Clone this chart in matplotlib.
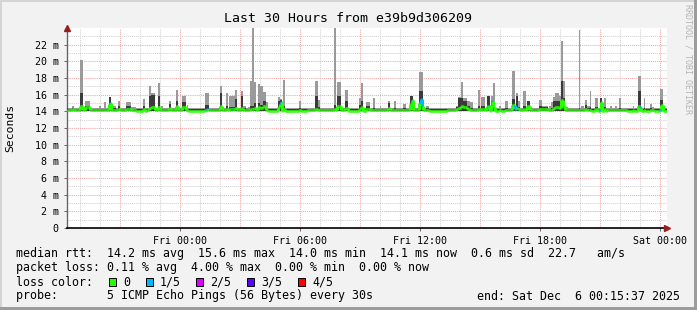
import matplotlib

matplotlib.use("Agg")
import matplotlib.pyplot as plt
import numpy as np
from matplotlib.collections import LineCollection
from matplotlib.patches import Rectangle

# ---- data (hours relative to Fri 00:00, one step = 3 min) ----
STEP_H = 0.05
T_START = -5.65
N_STEPS = 600

# hourly baseline median rtt (ms)
base_med = [14.15, 14.2, 14.15, 14.1, 14.15, 14.15, 14.1, 14.15, 14.2, 14.15,
            14.1, 14.1, 14.15, 14.15, 14.1, 14.15, 14.2, 14.15, 14.1, 14.15,
            14.15, 14.1, 14.15, 14.15, 14.2, 14.15, 14.1, 14.15, 14.1, 14.1]
BASE_LO, BASE_DARK, BASE_TOP = 14.0, 14.25, 14.35
DARK_LO = 14.1

# smoke bursts: start (h), steps, max ping, inner ping, median
ev_t = [-5.65, -5.40, -5.00, -4.75, -4.05, -3.80, -3.55, -3.40, -3.10, -2.70,
        -2.45, -1.85, -1.55, -1.45, -1.10, -0.95, -0.55, -0.20, 0.10, 0.35,
        1.25, 2.00, 2.30, 2.45, 2.75, 3.05, 3.15, 3.40, 3.50, 3.60,
        3.70, 3.90, 4.00, 4.15, 4.30, 4.90, 5.00, 5.15, 5.95, 6.75,
        6.90, 7.70, 7.85, 8.25, 8.95, 9.05, 9.30, 9.65, 10.00, 10.40,
        10.70, 11.15, 11.50, 11.95, 12.30, 13.80, 13.90, 14.05, 14.15, 14.35,
        14.50, 14.90, 15.05, 15.35, 15.55, 15.65, 15.95, 16.25, 16.60, 16.75,
        16.80, 16.90, 17.15, 17.35, 17.95, 18.10, 18.45, 18.55, 18.65, 18.75,
        18.95, 19.05, 19.15, 19.30, 19.95, 20.05, 20.25, 20.35, 20.50, 20.75,
        21.00, 21.20, 21.50, 21.75, 21.95, 22.65, 22.90, 23.20, 23.50, 23.60,
        24.00]
ev_n = [1, 2, 3, 5, 2, 2, 2, 4, 2, 5,
        5, 2, 2, 4, 2, 2, 2, 2, 4, 1,
        4, 2, 2, 6, 2, 2, 3, 2, 2, 2,
        2, 2, 3, 3, 2, 2, 2, 2, 2, 3,
        2, 2, 4, 3, 2, 2, 4, 2, 1, 2,
        2, 3, 3, 4, 3, 2, 3, 2, 4, 3,
        3, 2, 4, 3, 2, 2, 2, 3, 3, 1,
        2, 2, 3, 3, 3, 6, 2, 2, 2, 4,
        2, 2, 2, 2, 1, 3, 2, 3, 1, 3,
        2, 2, 2, 2, 2, 1, 3, 1, 2, 2,
        3]
ev_top = [14.9, 14.6, 20.2, 15.2, 14.7, 15.1, 15.7, 14.7, 15.2, 15.1,
          14.5, 15.5, 17.0, 16.2, 17.4, 14.6, 15.2, 16.6, 15.9, 14.8,
          16.2, 17.0, 16.2, 15.8, 16.6, 16.4, 14.7, 14.5, 17.7, 24.5,
          17.5, 17.3, 17.0, 16.3, 15.1, 15.7, 15.5, 17.8, 15.3, 17.7,
          15.4, 24.5, 17.5, 16.6, 15.6, 17.4, 15.1, 15.6, 14.6, 15.2,
          15.2, 14.9, 15.9, 18.7, 14.7, 14.7, 15.7, 17.5, 15.6, 15.3,
          15.1, 16.6, 15.7, 15.8, 15.8, 17.4, 14.6, 15.2, 18.9, 14.6,
          16.2, 15.2, 16.4, 15.2, 15.4, 14.7, 14.6, 15.1, 15.7, 16.2,
          15.8, 22.5, 17.6, 14.5, 23.8, 14.6, 15.4, 14.7, 16.4, 15.6,
          15.6, 15.6, 14.7, 14.7, 15.6, 14.6, 18.2, 15.6, 14.9, 14.5,
          16.7]
ev_dark = [14.4, 14.4, 16.2, 14.6, 14.3, 14.3, 15.7, 14.4, 14.6, 14.7,
           14.3, 14.6, 15.8, 16.0, 15.9, 14.3, 14.9, 15.3, 15.1, 14.3,
           14.8, 16.2, 14.6, 14.5, 15.5, 15.8, 14.4, 14.3, 14.6, 14.6,
           15.0, 15.0, 14.8, 15.3, 14.4, 15.3, 15.4, 14.6, 14.4, 15.9,
           14.5, 14.8, 15.9, 15.3, 14.8, 15.3, 14.6, 14.4, 14.3, 15.0,
           14.4, 14.4, 15.9, 16.4, 14.4, 14.5, 15.6, 15.6, 15.3, 14.6,
           14.4, 14.7, 14.6, 15.8, 15.2, 15.0, 14.3, 14.4, 15.5, 14.4,
           15.8, 14.5, 14.6, 15.2, 14.6, 14.5, 14.3, 14.4, 15.2, 15.3,
           15.2, 17.6, 15.6, 14.3, 14.4, 14.3, 14.8, 14.4, 14.5, 14.5,
           15.6, 14.5, 14.3, 14.3, 14.4, 14.3, 16.4, 14.4, 14.4, 14.3,
           15.4]
ev_med = [14.2, 14.3, 14.7, 14.5, 14.2, 14.2, 14.9, 14.2, 14.3, 14.3,
          14.2, 14.3, 14.4, 14.5, 14.5, 14.2, 14.4, 14.7, 14.5, 14.2,
          14.2, 14.7, 14.3, 14.3, 14.4, 14.4, 14.2, 14.2, 14.3, 14.3,
          14.4, 14.5, 14.4, 14.6, 14.2, 14.5, 14.9, 14.3, 14.2, 14.3,
          14.2, 14.3, 14.6, 14.4, 14.3, 14.5, 14.3, 14.2, 14.2, 14.4,
          14.2, 14.2, 14.9, 15.0, 14.2, 14.3, 14.4, 14.6, 14.5, 14.3,
          14.2, 14.3, 14.3, 14.6, 14.8, 14.5, 14.2, 14.2, 14.8, 14.3,
          14.4, 14.3, 14.3, 14.6, 14.3, 14.3, 14.2, 14.2, 14.4, 14.5,
          14.4, 15.4, 14.6, 14.2, 14.2, 14.2, 14.3, 14.2, 14.2, 14.3,
          15.1, 14.3, 14.2, 14.2, 14.2, 14.2, 14.6, 14.2, 14.2, 14.2,
          14.8]

# steps with one lost ping out of five
loss_t = [-3.50, -2.50, 1.35, 2.55, 5.05, 11.60, 12.05, 12.10, 15.40, 15.60,
          16.75, 16.85, 21.00, 23.00, 24.00]
loss_med = [15.0, 14.4, 14.3, 14.3, 15.1, 15.4, 15.5, 14.6, 14.4, 15.3,
            14.3, 14.4, 14.3, 14.4, 14.3]

loss_labels = ["0", "1/5", "2/5", "3/5", "4/5"]
loss_colors = ["#26ff00", "#00b8ff", "#dd00ff", "#5e00ff", "#ff0000"]

y_ticks = [0, 2, 4, 6, 8, 10, 12, 14, 16, 18, 20, 22]
x_ticks = [0, 6, 12, 18, 24]
x_labels = ["Fri 00:00", "Fri 06:00", "Fri 12:00", "Fri 18:00", "Sat 00:00"]

row_median = "median rtt:  14.2 ms avg  15.6 ms max  14.0 ms min  14.1 ms now  0.6 ms sd  22.7   am/s"
row_loss = "packet loss: 0.11 % avg  4.00 % max  0.00 % min  0.00 % now"
row_probe = "probe:       5 ICMP Echo Pings (56 Bytes) every 30s"
end_text = "end: Sat Dec  6 00:15:37 2025"

# ---- build per-step series ----
t = T_START + np.arange(N_STEPS) * STEP_H
med = np.repeat(np.array(base_med), N_STEPS // len(base_med))
lo = np.full(N_STEPS, BASE_LO)
dark = np.full(N_STEPS, BASE_DARK)
top = np.full(N_STEPS, BASE_TOP)
loss = np.zeros(N_STEPS, dtype=int)
for t0, n, tp, dk, md in zip(ev_t, ev_n, ev_top, ev_dark, ev_med):
    i0 = int(round((t0 - T_START) / STEP_H))
    top[i0:i0 + n] = tp
    dark[i0:i0 + n] = dk
    med[i0:i0 + n] = md
for t0, md in zip(loss_t, loss_med):
    i0 = min(int(round((t0 - T_START) / STEP_H)), N_STEPS - 1)
    loss[i0] = 1
    med[i0] = md

# ---- figure ----
plt.rcParams["font.family"] = "DejaVu Sans Mono"
W, H = 697, 310
BG = "#f2f2f2"
fig = plt.figure(figsize=(W / 100, H / 100), dpi=100, facecolor=BG)


def fx(x):
    return x / W


def fy(y):
    return 1 - y / H


ax = fig.add_axes([fx(67), fy(228), 600 / W, 200 / H])
ax.set_facecolor("white")
x_end = T_START + N_STEPS * STEP_H
ax.set_xlim(T_START, x_end)
ax.set_ylim(0, 24)

# grid
for h in range(-5, 25):
    c = "#f4a6a6" if h % 3 == 0 else "#d2d2d2"
    ax.axvline(h, color=c, lw=0.75, ls=(0, (1, 1)), zorder=0.5)
for v in range(1, 24):
    c = "#f4a6a6" if v % 2 == 0 else "#d2d2d2"
    ax.axhline(v, color=c, lw=0.75, ls=(0, (1, 1)), zorder=0.5)

# smoke
ax.bar(t, top - lo, bottom=lo, width=STEP_H, align="edge",
       color="#9a9a9a", linewidth=0, zorder=2)
ax.bar(t, np.maximum(dark - DARK_LO, 0), bottom=DARK_LO, width=STEP_H,
       align="edge", color="#3a3a3a", linewidth=0, zorder=3)

# median line coloured by loss
segs, cols = [], []
for i in range(N_STEPS):
    c = loss_colors[loss[i]]
    if i > 0:
        segs.append([(t[i], med[i - 1]), (t[i], med[i])])
        cols.append(c)
    segs.append([(t[i], med[i]), (t[i] + STEP_H, med[i])])
    cols.append(c)
ax.add_collection(LineCollection(segs, colors=cols, linewidths=2.2,
                                 capstyle="butt", zorder=4))

# axes
for s in ["top", "right"]:
    ax.spines[s].set_visible(False)
ax.spines["left"].set_color("#666666")
ax.spines["left"].set_linewidth(1.0)
ax.spines["bottom"].set_color("black")
ax.spines["bottom"].set_linewidth(1.2)
ax.set_yticks(y_ticks)
ax.set_yticklabels(["0"] + ["%d m" % v for v in y_ticks[1:]])
ax.set_xticks(x_ticks)
ax.set_xticklabels(x_labels)
ax.tick_params(axis="both", labelsize=7.2, length=2, width=0.7,
               color="#666666", labelcolor="black")
ax.tick_params(axis="y", pad=4)
ax.tick_params(axis="x", pad=4)
ax.plot(1.0, 0, marker=">", transform=ax.transAxes, clip_on=False,
        color="#9b1c1c", ms=4.5, zorder=6)
ax.plot(0, 1.0, marker="^", transform=ax.transAxes, clip_on=False,
        color="#9b1c1c", ms=4.5, zorder=6)

# border
fig.add_artist(Rectangle((0, 0), 1, fy(1.5) - 0 + 0, transform=fig.transFigure,
                         fill=False, lw=0))
fig.add_artist(Rectangle((0, fy(2)), 1, 2 / H, transform=fig.transFigure,
                         color="#d4d4d4", lw=0))
fig.add_artist(Rectangle((0, 0), 2 / W, 1, transform=fig.transFigure,
                         color="#d4d4d4", lw=0))
fig.add_artist(Rectangle((0, 0), 1, 3 / H, transform=fig.transFigure,
                         color="#9c9c9c", lw=0))
fig.add_artist(Rectangle((fx(W - 3), 0), 3 / W, 1, transform=fig.transFigure,
                         color="#9c9c9c", lw=0))

# texts
fig.text(fx(348), fy(18), "Last 30 Hours from e39b9d306209", ha="center",
         va="center", fontsize=9.5)
fig.text(fx(10), fy(128), "Seconds", rotation=90, ha="center", va="center",
         fontsize=8.2)
fig.text(fx(688), fy(4), "RRDTOOL / TOBI OETIKER", rotation=270, ha="center",
         va="top", fontsize=6, color="#b4b4b4")

LEG_FS = 8.4
fig.text(fx(16), fy(254), row_median, va="center", fontsize=LEG_FS)
fig.text(fx(16), fy(268), row_loss, va="center", fontsize=LEG_FS)
fig.text(fx(16), fy(282), "loss color:", va="center", fontsize=LEG_FS)
box_x = [109, 146, 196, 247, 298]
for bx, lab, col in zip(box_x, loss_labels, loss_colors):
    fig.add_artist(Rectangle((fx(bx), fy(286)), 7 / W, 8 / H,
                             transform=fig.transFigure, facecolor=col,
                             edgecolor="black", lw=0.7))
    fig.text(fx(bx + 14), fy(282), lab, va="center", fontsize=LEG_FS)
fig.text(fx(16), fy(296), row_probe, va="center", fontsize=LEG_FS)
fig.text(fx(680), fy(296), end_text, va="center", ha="right", fontsize=LEG_FS)

fig.savefig("out.png", dpi=100, facecolor=BG)
